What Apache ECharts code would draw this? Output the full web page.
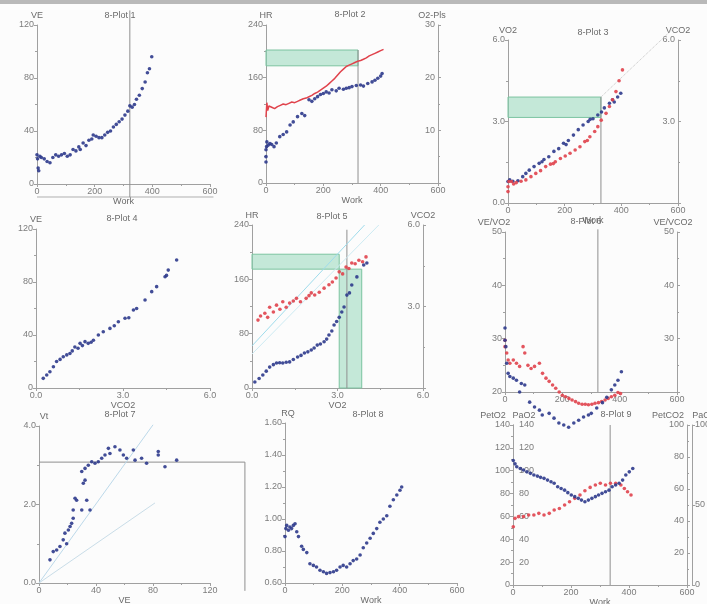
<!DOCTYPE html>
<html><head><meta charset="utf-8">
<script src="https://cdn.jsdelivr.net/npm/echarts@6/dist/echarts.min.js"></script>
<style>html,body{margin:0;padding:0;background:#fcfcfc}#c{width:707px;height:604px}</style>
</head><body><div id="c"></div>
<script>
// ---------------- DATA ----------------
const workTicks = [0, 200, 400, 600];
// Panel 1: VE vs Work
const p1Work = [0,2,4,6,10,15,25,35,45,55,65,75,85,95,105,115,125,135,145,150,160,170,180,190,195,205,215,225,235,245,255,265,275,285,295,305,315,322,330,338,345,355,365,375,383,390,398];
const p1VE   = [22,19,12,10,21,20,19,17,16,20,22,21,22,23,21,22,26,25,28,26,31,29,33,34,37,36,35,35,37,39,40,43,45,47,49,52,55,59,58,60,64,67,72,77,84,87,96];
const p1Threshold = 322;
// Panel 2: HR (red line) and O2-pulse (blue) vs Work
const p2Work = [0,3,6,10,20,30,40,50,60,70,80,90,100,110,120,130,140,150,160,170,180,190,200,210,220,230,240,250,260,270,280,290,300,310,320,330,340,350,360,370,380,390,400,410];
const p2HR   = [100,122,110,117,115,113,116,118,120,119,121,123,122,124,126,128,129,131,133,136,138,141,144,147,151,155,159,164,169,173,177,179,181,183,185,186,188,190,193,195,197,199,201,203];
const p2PulseWork = [0,0,0,2,3,8,14,20,28,36,48,60,72,84,95,110,125,135,150,160,170,180,190,200,210,220,230,245,255,270,280,290,300,315,330,340,355,370,380,390,400,405];
const p2Pulse     = [4,5,6.3,6.9,7.8,7.2,7.5,7.3,6.9,7.6,8.8,9.2,9.7,11,11.6,12.6,13.2,12.8,15.8,15.5,16,16.4,16.8,17,17.3,17.1,17.7,17.5,18,17.8,18,18.1,18.3,18.5,18.6,18.4,18.9,19.2,19.5,19.9,20.3,20.8];
const p2Threshold = 321, p2Band = [178, 202];
// Panel 3: VO2 (blue) and VCO2 (red) vs Work
const p3VO2Work = [0,6,17,35,52,63,75,92,110,120,127,144,162,179,196,205,213,231,248,265,283,290,300,317,330,340,358,369,375,387,398];
const p3VO2     = [0.79,0.85,0.8,0.82,0.97,1.09,1.21,1.34,1.46,1.52,1.6,1.7,1.9,2.0,2.2,2.15,2.3,2.5,2.7,2.87,3.0,3.08,3.1,3.24,3.35,3.5,3.67,3.8,3.72,3.9,4.04];
const p3VCO2Work = [0,0,3,12,20,29,46,63,81,98,115,133,150,160,167,185,202,219,237,254,271,280,289,306,317,329,346,358,369,381,392,404];
const p3VCO2     = [0.42,0.6,0.79,0.79,0.7,0.75,0.8,0.85,0.97,1.09,1.19,1.34,1.43,1.45,1.52,1.64,1.73,1.83,1.95,2.07,2.26,2.3,2.44,2.63,2.81,3.05,3.3,3.55,3.8,4.1,4.5,4.9];
const p3Threshold = 328, p3Band = [3.15, 3.9], p3DiagEnd = [586, 6.45];
// Panel 4: VE vs VCO2
const p4VCO2 = [0.25,0.37,0.48,0.6,0.71,0.83,0.94,1.06,1.17,1.25,1.34,1.45,1.52,1.6,1.69,1.8,1.9,1.98,2.15,2.32,2.55,2.7,2.84,3.07,3.2,3.36,3.47,3.76,3.99,4.16,4.45,4.5,4.56,4.85];
const p4VE   = [7.3,9.8,12.3,16,20,21.6,23.6,25,26,28,31,30,33.7,32,35,33.7,34.5,36,40,42.5,45,47,50,52.6,53,58.9,60,66.4,72.7,76.5,84,85,89,96.6];
// Panel 5: HR (red) and VCO2 (blue) vs VO2
const p5RedVO2 = [0.21,0.3,0.45,0.55,0.62,0.75,0.86,0.98,1.08,1.2,1.32,1.45,1.56,1.7,1.9,2.0,2.08,2.2,2.36,2.53,2.7,2.82,2.95,3.06,3.18,3.3,3.4,3.5,3.62,3.75,3.88,4.0];
const p5RedHR  = [100,106,110,104,119,112,122,116,127,119,125,128,132,127,132,136,140,137,141,147,152,156,162,171,168,178,176,184,183,188,186,193];
const p5BlueVO2  = [0.1,0.25,0.38,0.5,0.62,0.75,0.86,0.97,1.08,1.2,1.32,1.45,1.6,1.72,1.84,1.96,2.08,2.18,2.29,2.4,2.53,2.62,2.7,2.8,2.88,2.97,3.06,3.15,3.23,3.33,3.42,3.5,3.68,3.92,4.03];
const p5BlueVCO2 = [0.22,0.35,0.48,0.62,0.77,0.86,0.92,0.93,0.92,0.95,0.96,1.05,1.14,1.2,1.29,1.33,1.4,1.47,1.58,1.62,1.7,1.8,1.95,2.1,2.32,2.45,2.6,2.8,2.98,3.42,3.5,3.79,4.09,4.53,4.6];
const p5HBand = [175, 197], p5VBand = [3.06, 3.85], p5Threshold = 3.33;
const p5DiagA = [[0, 62], [3.95, 240]], p5DiagB = [[0, 50], [4.45, 240]];
// Panel 6: VE/VO2 (red) and VE/VCO2 (blue) vs Work
const p6RedWork = [0,0,6,11,17,29,40,51,63,69,80,91,103,120,131,143,154,166,177,189,200,211,223,234,246,257,269,280,291,303,314,326,337,349,360,371,383,394,403];
const p6Red     = [29.7,28.5,27.3,26,25.4,26,25.4,24.8,28.5,27.3,25,24.4,24.8,25.4,23.5,22.6,22,21.3,20.7,20,19.4,19.1,18.8,18.5,18.2,17.9,17.7,17.7,17.6,17.7,17.9,18,18.2,18.5,18.8,19.1,19.4,19.9,19.7];
const p6BlueWork = [0,0,3,6,11,17,29,40,51,57,69,86,103,120,130,154,171,188,205,222,240,257,274,291,301,320,340,355,371,383,394,406];
const p6Blue     = [32,29.7,28.5,25.4,23.5,22.9,22.6,22.2,20,21.6,21.3,18.1,17.2,16.6,15.7,16,15.1,14.2,13.8,13.4,14.2,14.7,15.3,15.7,16,17,18,19,20.4,21.3,22.2,23.8];
const p6Threshold = 324;
// Panel 7: Vt vs VE
const p7VE = [7.7,10,12.4,14.7,17,18.2,19.4,20.6,21.8,22.9,24,24,25.3,26.4,30,33.5,35.8,31.1,32.3,30,32.3,34.6,37,39.3,41.6,44,46.3,48.7,49.8,53.3,56.8,59.2,61.5,66.2,67.4,72,75.5,83.7,83.7,88.4,96.6];
const p7Vt = [0.59,0.8,0.84,0.93,1.1,1.27,1.0,1.35,1.44,1.52,1.65,1.86,2.16,2.11,1.86,2.11,1.86,2.54,2.62,2.84,2.92,3.0,3.09,3.05,3.09,3.18,3.26,3.43,3.3,3.47,3.39,3.26,3.18,3.39,3.13,3.18,3.05,3.35,3.26,2.96,3.13];
const p7VtLimit = 3.08, p7VELimit = 144.5;
const p7DiagA = [[0, 0], [80, 4.03]], p7DiagB = [[0, 0], [81.4, 2.04]];
// Panel 8: RQ vs Work
const p8Work = [0,3,6,12,17,23,29,35,41,47,58,64,76,87,99,110,122,134,145,157,169,180,192,203,215,227,238,250,262,273,285,297,308,320,331,343,355,366,378,390,401,407];
const p8RQ   = [0.89,0.94,0.96,0.93,0.95,0.94,0.96,0.97,0.92,0.89,0.83,0.81,0.79,0.72,0.71,0.70,0.68,0.67,0.66,0.665,0.67,0.68,0.70,0.71,0.70,0.72,0.74,0.75,0.775,0.82,0.85,0.88,0.91,0.94,0.98,1.0,1.02,1.08,1.12,1.15,1.18,1.2];
// Panel 9: PetO2 (blue) and PetCO2 (red) vs Work
const p9BlueWork = [1,7,13,25,36,48,60,72,84,95,107,119,131,142,154,166,178,189,201,213,225,236,248,260,272,284,295,307,319,331,342,354,366,378,389,401,413];
const p9PetO2    = [109,106,103.5,102,100.6,99,97.7,96.2,95.3,94.2,93.3,91.8,90.4,89,86,84.5,83,80.8,78.7,77.3,75.8,74.3,72.9,74.3,75.8,77.3,78.7,80.2,81.6,83,86,87.5,89,91.8,96.2,99,102];
const p9RedWork = [1,7,19,36,54,72,89,107,125,142,160,178,195,213,231,248,266,284,301,319,336,354,372,384,395,407];
const p9Red     = [51,58.3,59.8,59.8,61.2,61.2,62.7,61.2,62.7,65.6,67,70,72.9,75.8,78.7,82.5,85.4,87.5,89,87.5,89,89,87.5,84.5,81.6,78.7];
const p9Threshold = 335;

// ---------------- STYLE / BUILD ----------------
const BLUE = '#2e3a8c', RED = '#e0434c', AX = '#a0a0a0', LBL = '#7c7c7c', REF = '#8f8f8f';
const FONT = 'Liberation Sans';
const zip = (a, b) => a.map((v, i) => [v, b[i]]);

function ax(o, lbl, nameStyle) {
  return Object.assign({
    type: 'value',
    axisLine: { show: true, onZero: false, lineStyle: { color: AX, width: 1 } },
    axisTick: { show: true, length: 3, lineStyle: { color: AX } },
    minorTick: { show: true, splitNumber: 2, length: 2, lineStyle: { color: AX } },
    splitLine: { show: false },
    axisLabel: Object.assign({ color: LBL, fontSize: 9, fontFamily: FONT, margin: 3 }, lbl || {}),
    nameTextStyle: Object.assign({ color: '#6a6a6a', fontSize: 9, fontFamily: FONT }, nameStyle || {}),
    nameGap: 5
  }, o);
}
const f1 = v => v.toFixed(1), f2 = v => v.toFixed(2);
const workAxis = (g, name, gap) => ax({ gridIndex: g, min: 0, max: 600, interval: 200, name: name || '', nameLocation: 'middle', nameGap: gap || 11 });

const grids = [
  [37, 25, 173, 159], [266, 25, 172, 158], [508, 40, 170, 163],
  [36, 229, 174, 159], [252, 225, 171, 163], [505, 232, 172, 160],
  [39, 426, 171, 157], [285, 423, 172, 160], [513, 425, 174, 160]
].map(g => ({ left: g[0], top: g[1], width: g[2], height: g[3], containLabel: false, outerBoundsMode: 'none' }));

const xAxis = [
  workAxis(0, 'Work', 11), workAxis(1, 'Work', 11), workAxis(2, 'Work', 10),
  ax({ gridIndex: 3, min: 0, max: 6, interval: 3, name: 'VCO2', nameLocation: 'middle', nameGap: 10 }, { formatter: f1 }),
  ax({ gridIndex: 4, min: 0, max: 6, interval: 3, name: 'VO2', nameLocation: 'middle', nameGap: 10 }, { formatter: f1 }),
  workAxis(5, '', 10),
  ax({ gridIndex: 6, min: 0, max: 120, interval: 40, name: 'VE', nameLocation: 'middle', nameGap: 11 }),
  workAxis(7, 'Work', 11), workAxis(8, 'Work', 12)
];

const rightLbl = { inside: true, showMinLabel: false };
const yAxis = [
  ax({ gridIndex: 0, min: 0, max: 120, interval: 40, name: 'VE', position: 'left' }),
  ax({ gridIndex: 1, min: 0, max: 240, interval: 80, name: 'HR', position: 'left' }),
  ax({ gridIndex: 1, min: 0, max: 30, interval: 10, name: 'O2-Pls', position: 'right' }, rightLbl, { padding: [0, 12, 0, 0] }),
  ax({ gridIndex: 2, min: 0, max: 6, interval: 3, name: 'VO2', position: 'left' }, { formatter: f1 }),
  ax({ gridIndex: 2, min: 0, max: 6, interval: 3, name: 'VCO2', position: 'right' }, Object.assign({ formatter: f1 }, rightLbl)),
  ax({ gridIndex: 3, min: 0, max: 120, interval: 40, name: 'VE', position: 'left' }),
  ax({ gridIndex: 4, min: 0, max: 240, interval: 80, name: 'HR', position: 'left' }),
  ax({ gridIndex: 4, min: 0, max: 6, interval: 3, name: 'VCO2', position: 'right' }, Object.assign({ formatter: f1 }, rightLbl)),
  ax({ gridIndex: 5, min: 20, max: 50, interval: 10, name: 'VE/VO2', position: 'left' }, {}, { padding: [0, 22, 0, 0] }),
  ax({ gridIndex: 5, min: 20, max: 50, interval: 10, name: 'VE/VCO2', position: 'right' }, rightLbl, { padding: [0, 8, 0, 0] }),
  ax({ gridIndex: 6, min: 0, max: 4, interval: 2, name: 'Vt', position: 'left' }, { formatter: f1 }, { padding: [0, 0, 0, 10] }),
  ax({ gridIndex: 7, min: 0.6, max: 1.6, interval: 0.2, name: 'RQ', position: 'left' }, { formatter: f2 }, { padding: [0, 0, 0, 6] }),
  ax({ gridIndex: 8, min: 0, max: 140, interval: 20, name: 'PetO2', position: 'left' }, {}, { padding: [0, 40, 0, 0] }),
  ax({ gridIndex: 8, min: 0, max: 140, interval: 20, name: 'PaO2', position: 'left', axisTick: { show: false }, minorTick: { show: false } }, { inside: true, showMinLabel: false, margin: 6 }, { padding: [0, 0, 0, 22] }),
  ax({ gridIndex: 8, min: 0, max: 100, interval: 20, name: 'PetCO2', position: 'right' }, rightLbl, { padding: [0, 38, 0, 0] }),
  ax({ gridIndex: 8, min: 0, max: 100, interval: 50, name: 'PaCO2', position: 'right', offset: 5, minorTick: { show: false } }, { margin: 3 }, { padding: [0, 0, 0, 30] })
];

function scatter(xi, yi, data, color, extra) {
  return Object.assign({ type: 'scatter', xAxisIndex: xi, yAxisIndex: yi, data, symbol: 'circle', symbolSize: 3.6,
    itemStyle: { color, opacity: 0.9 }, clip: false, z: 5 }, extra || {});
}
function ref(xi, yi, data, color, extra) {
  return Object.assign({ type: 'line', xAxisIndex: xi, yAxisIndex: yi, data, symbol: 'none', clip: false, silent: true, z: 3,
    lineStyle: { color: color || REF, width: 1 } }, extra || {});
}
const bandStyle = { color: 'rgba(150,215,185,0.55)', borderColor: '#7cc4a1', borderWidth: 1 };
function band(x0, y0, x1, y1) { return [{ coord: [x0, y0] }, { coord: [x1, y1] }]; }

const series = [
  ref(0, 0, [[p1Threshold, 131], [p1Threshold, -10]]),
  scatter(0, 0, zip(p1Work, p1VE), BLUE),
  ref(1, 1, [[p2Threshold, p2Band[1]], [p2Threshold, 0]], REF, {
    markArea: { silent: true, itemStyle: bandStyle, data: [band(0, p2Band[0], p2Threshold, p2Band[1])] } }),
  { type: 'line', xAxisIndex: 1, yAxisIndex: 1, data: zip(p2Work, p2HR), symbol: 'none', lineStyle: { color: RED, width: 1.5 }, z: 4 },
  scatter(1, 2, zip(p2PulseWork, p2Pulse), BLUE),
  ref(2, 3, [[p3Threshold, p3Band[1]], [p3Threshold, 0]], REF, {
    markArea: { silent: true, itemStyle: bandStyle, data: [band(0, p3Band[0], p3Threshold, p3Band[1])] } }),
  ref(2, 3, [[p3Threshold, p3Band[1]], p3DiagEnd], '#c4c4c4', { lineStyle: { color: '#c4c4c4', width: 1, type: 'dotted' } }),
  scatter(2, 3, zip(p3VO2Work, p3VO2), BLUE),
  scatter(2, 4, zip(p3VCO2Work, p3VCO2), RED),
  scatter(3, 5, zip(p4VCO2, p4VE), BLUE),
  ref(4, 6, [[p5Threshold, 233], [p5Threshold, 0]], REF, {
    markArea: { silent: true, itemStyle: bandStyle, data: [
      band(0, p5HBand[0], p5VBand[0], p5HBand[1]),
      band(p5VBand[0], 0, p5VBand[1], p5HBand[0])] } }),
  ref(4, 6, p5DiagA, '#9fdcec'),
  ref(4, 6, p5DiagB, '#cdebf3'),
  scatter(4, 6, zip(p5RedVO2, p5RedHR), RED),
  scatter(4, 7, zip(p5BlueVO2, p5BlueVCO2), BLUE),
  ref(5, 8, [[p6Threshold, 50.5], [p6Threshold, 20]]),
  scatter(5, 8, zip(p6RedWork, p6Red), RED),
  scatter(5, 9, zip(p6BlueWork, p6Blue), BLUE),
  ref(6, 10, p7DiagA, '#bcd9ea'),
  ref(6, 10, p7DiagB, '#c9dde8'),
  scatter(6, 10, zip(p7VE, p7Vt), BLUE),
  scatter(7, 11, zip(p8Work, p8RQ), BLUE),
  ref(8, 12, [[p9Threshold, 140], [p9Threshold, 0]]),
  scatter(8, 12, zip(p9RedWork, p9Red), RED),
  scatter(8, 12, zip(p9BlueWork, p9PetO2), BLUE)
];

const titles = [['8-Plot 1', 120, 16], ['8-Plot 2', 350, 15], ['8-Plot 3', 593, 33], ['8-Plot 4', 122, 219], ['8-Plot 5', 332, 217],
  ['8-Plot 6', 586, 222], ['8-Plot 7', 120, 415], ['8-Plot 8', 368, 415], ['8-Plot 9', 616, 415]];
const baseGraphic = [{ type: 'rect', shape: { x: 0, y: 0, width: 707, height: 4 }, style: { fill: '#b9b9b9' }, silent: true }]
  .concat(titles.map(t => ({ type: 'text', x: t[1], y: t[2], silent: true,
    style: { text: t[0], fill: '#6a6a6a', font: '9px ' + FONT, textAlign: 'center', textVerticalAlign: 'middle' } })));

const chart = echarts.init(document.getElementById('c'));
chart.setOption({
  backgroundColor: '#fcfcfc',
  animation: false,
  textStyle: { fontFamily: FONT },
  grid: grids, xAxis, yAxis, series, graphic: baseGraphic
});

// reference lines that run past an axis end, placed through the axes' own scales
const px = (xi, yi, pt) => chart.convertToPixel({ xAxisIndex: xi, yAxisIndex: yi }, pt);
const poly = (pts, color) => ({ type: 'polyline', silent: true, z: 3, shape: { points: pts },
  style: { stroke: color, lineWidth: 1, fill: null } });
chart.setOption({ graphic: baseGraphic.concat([
  poly([px(0, 0, [0, -9.8]), px(0, 0, [612, -9.8])], '#b0b0b0'),
  poly([px(6, 10, [0, p7VtLimit]), px(6, 10, [p7VELimit, p7VtLimit]), px(6, 10, [p7VELimit, -0.2])], REF)
]) });
</script></body></html>
